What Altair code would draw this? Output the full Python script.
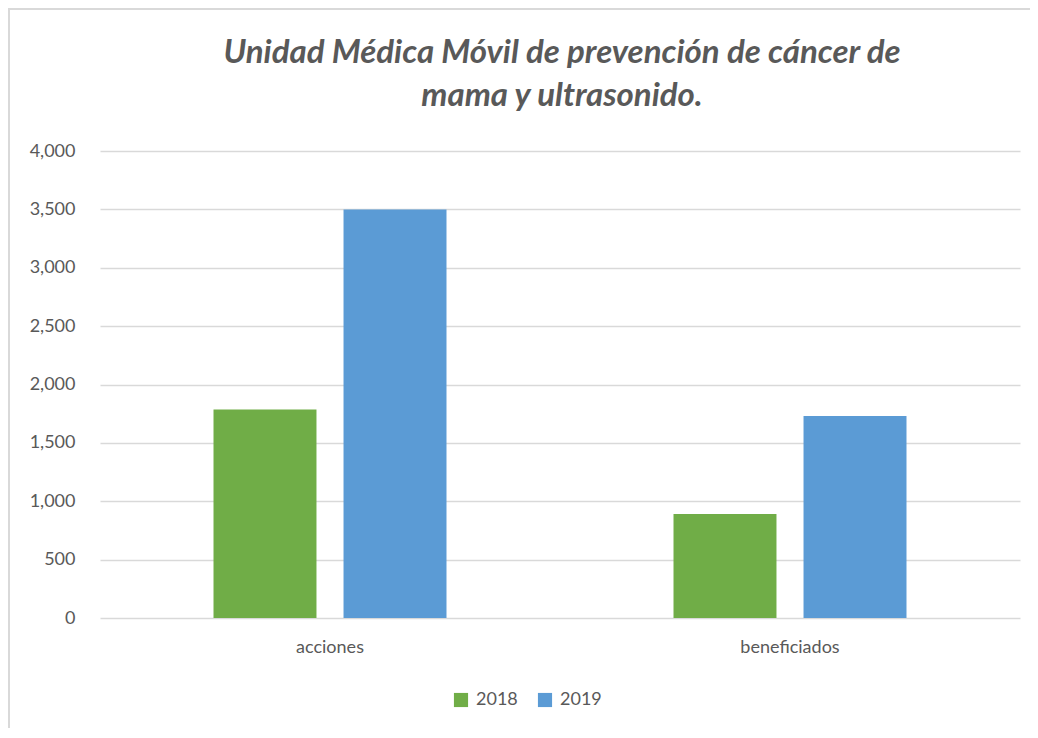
import altair as alt
import pandas as pd

categories = ["acciones", "beneficiados"]
years = ["2018", "2019"]
values_2018 = [1785, 890]
values_2019 = [3500, 1730]
colors = ["#70AD47", "#5B9BD5"]
title_lines = ["Unidad Médica Móvil de prevención de cáncer de", "mama y ultrasonido."]

rows = []
for i, c in enumerate(categories):
    rows.append({"categoria": c, "anio": "2018", "valor": values_2018[i]})
    rows.append({"categoria": c, "anio": "2019", "valor": values_2019[i]})
df = pd.DataFrame(rows)

FONT = "Lato"
GRAY = "#595959"

bars = alt.Chart(df).mark_bar().encode(
    x=alt.X("categoria:N", sort=categories,
            scale=alt.Scale(paddingInner=0, paddingOuter=0),
            axis=alt.Axis(title=None, labelAngle=0, labelFontSize=18, labelColor=GRAY,
                          labelFont=FONT, ticks=False, domain=False, labelPadding=20,
                          grid=False)),
    xOffset=alt.XOffset("anio:N", sort=years,
                        scale=alt.Scale(paddingInner=0.208, paddingOuter=0.873)),
    y=alt.Y("valor:Q", scale=alt.Scale(domain=[0, 4000]),
            axis=alt.Axis(title=None, values=[0, 500, 1000, 1500, 2000, 2500, 3000, 3500, 4000],
                          format=",.0f", labelFontSize=18, labelColor=GRAY, labelFont=FONT,
                          ticks=False, domain=False, labelPadding=25,
                          gridColor="#d9d9d9", gridWidth=1.3)),
    color=alt.Color("anio:N", sort=years,
                    scale=alt.Scale(domain=years, range=colors),
                    legend=alt.Legend(title=None, orient="none", direction="horizontal",
                                      legendX=352, legendY=540, symbolType="square",
                                      symbolSize=200, labelFontSize=18, labelColor=GRAY,
                                      labelFont=FONT, columnPadding=18, labelOffset=6,
                                      symbolStrokeWidth=0)),
)

one = pd.DataFrame({"k": [0]})
top_rule = alt.Chart(one).mark_rule(stroke="#d9d9d9", strokeWidth=2).encode(
    x=alt.value(-92), x2=alt.value(1022), y=alt.value(-142))
left_rule = alt.Chart(one).mark_rule(stroke="#d9d9d9", strokeWidth=2).encode(
    x=alt.value(-91), y=alt.value(-143), y2=alt.value(600))

title_style = dict(font=FONT, fontSize=33, fontStyle="italic", fontWeight="bold",
                   color=GRAY, align="center", baseline="alphabetic")
t1 = alt.Chart(one).mark_text(**title_style).encode(
    x=alt.value(462), y=alt.value(-88), text=alt.value(title_lines[0]))
t2 = alt.Chart(one).mark_text(**title_style).encode(
    x=alt.value(462), y=alt.value(-45), text=alt.value(title_lines[1]))

chart = alt.layer(top_rule, left_rule, bars, t1, t2).properties(
    width=920,
    height=467,
    autosize=alt.AutoSizeParams(type="none"),
    padding={"left": 92, "top": 143, "right": 10, "bottom": 110},
    background="white",
).configure_view(stroke=None)

chart.save("out.html", embed_options={"renderer": "svg", "actions": False})
